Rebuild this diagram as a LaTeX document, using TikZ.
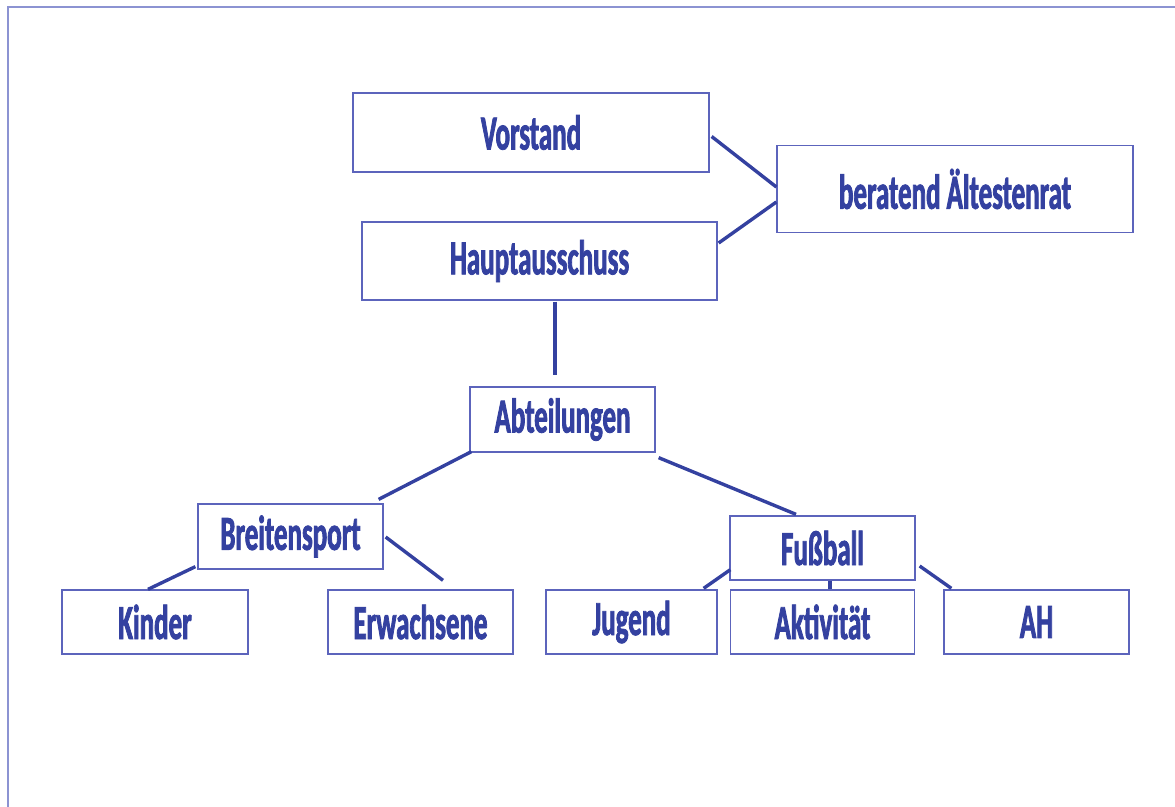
\documentclass[tikz,border=0pt]{standalone}
\usepackage{fontspec}
\setmainfont{Carlito}[FakeStretch=0.55, BoldFeatures={FakeBold=1.6}]
\definecolor{orgblue}{HTML}{3441A0}
\definecolor{boxblue}{HTML}{5C64BC}
\definecolor{frameblue}{HTML}{8C93D2}
\tikzset{
  box/.style={draw=boxblue, line width=1.3pt, inner sep=0pt, text=orgblue,
    font=\fontsize{49}{49}\selectfont\bfseries},
  link/.style={draw=orgblue, line width=3.4pt}
}
\begin{document}
\begin{tikzpicture}[x=1pt, y=-1pt]
\clip (0,0) rectangle (1175,806);
% Frame
\draw[frameblue, line width=2pt] (8,830) -- (8,7) -- (1190,7);

% Boxes
\node[box, minimum width=356, minimum height=79] (vorstand) at (531,132.5) {Vorstand};
\node[box, minimum width=356, minimum height=87] (rat) at (955,189) {beratend Ältestenrat};
\node[box, minimum width=355, minimum height=78] (haupt) at (539.5,261) {Hauptausschuss};
\node[box, minimum width=185, minimum height=65] (abt) at (562.5,419.5) {Abteilungen};
\node[box, minimum width=185, minimum height=65] (breit) at (290.5,536.5) {Breitensport};
\node[box, minimum width=185, minimum height=64] (fuss) at (822.5,548) {Fußball};
\node[box, minimum width=186, minimum height=64] (kinder) at (155,622) {Kinder};
\node[box, minimum width=185, minimum height=64] (erw) at (420.5,622) {Erwachsene};
\node[box, minimum width=171, minimum height=64] (jugend) at (631.5,622) {Jugend};
\node[box, minimum width=184, minimum height=64] (akt) at (822.5,622) {Aktivität};
\node[box, minimum width=185, minimum height=64] (ah) at (1036.5,622) {AH};

% Lines
\draw[link] ([shift={(2,4)}]vorstand.east) -- ([shift={(0,-2)}]rat.west);
\draw[link] ([shift={(1,-18)}]haupt.east) -- ([shift={(0,13)}]rat.west);
\draw[link] ([shift={(15.5,1)}]haupt.south) -- ([shift={(-7.5,-11)}]abt.north);
\draw[link] ([shift={(2,-1)}]abt.south west) -- ([shift={(-5,-4)}]breit.north east);
\draw[link] ([shift={(3,5)}]abt.south east) -- ([shift={(-26.5,-1)}]fuss.north);
\draw[link] ([shift={(-2,-3)}]breit.south west) -- ([shift={(-7,0)}]kinder.north);
\draw[link] ([shift={(2,0.5)}]breit.east) -- ([shift={(22.5,-9)}]erw.north);
\draw[link] ([shift={(1,-11)}]fuss.south west) -- ([shift={(-14,-1)}]jugend.north east);
\draw[link] ([shift={(7.5,0)}]fuss.south) -- ([shift={(7.5,0)}]akt.north);
\draw[link] ([shift={(4,18)}]fuss.east) -- ([shift={(8,-1)}]ah.north west);
\end{tikzpicture}
\end{document}
